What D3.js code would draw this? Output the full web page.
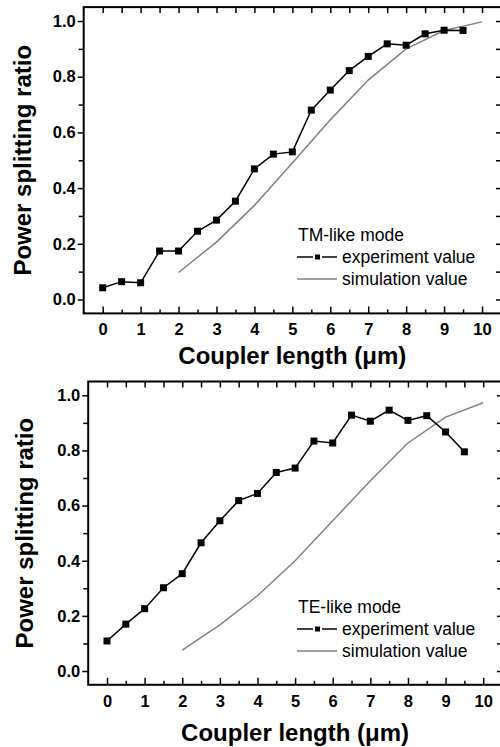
<!DOCTYPE html>
<html>
<head>
<meta charset="utf-8"/>
<script src="https://d3js.org/d3.v7.min.js"></script>
<style>
    body { margin: 0; background: #fff; }
    svg { display: block; }
    text { font-family: Arial, "Liberation Sans", sans-serif; fill: #000; }
    .tick line { stroke: #000; stroke-width: 1.5; }
</style>
</head>
<body>
<svg id="chart" width="500" height="747"></svg>
<script>
    // coupler lengths (um)
    var expLengths = [0, 0.5, 1, 1.5, 2, 2.5, 3, 3.5, 4, 4.5, 5, 5.5, 6, 6.5, 7, 7.5, 8, 8.5, 9, 9.5]
    var simLengths = [2, 3, 4, 5, 6, 7, 8, 9, 10]

    // TM-like mode
    var tmExperiment = [0.042, 0.064, 0.060, 0.174, 0.174, 0.245, 0.285, 0.353, 0.469, 0.522,
        0.530, 0.680, 0.752, 0.822, 0.873, 0.918, 0.913, 0.954, 0.967, 0.966]
    var tmSimulation = [0.097, 0.206, 0.338, 0.490, 0.645, 0.788, 0.900, 0.966, 0.997]

    // TE-like mode
    var teExperiment = [0.109, 0.170, 0.226, 0.302, 0.353, 0.465, 0.545, 0.618, 0.644, 0.720,
        0.736, 0.834, 0.827, 0.928, 0.906, 0.946, 0.909, 0.926, 0.867, 0.795]
    var teSimulation = [0.076, 0.167, 0.273, 0.400, 0.545, 0.690, 0.827, 0.921, 0.973]

    var xTicks = [0, 1, 2, 3, 4, 5, 6, 7, 8, 9, 10]
    var xMinor = [0.5, 1.5, 2.5, 3.5, 4.5, 5.5, 6.5, 7.5, 8.5, 9.5]
    var yTicks = [0, 0.2, 0.4, 0.6, 0.8, 1.0]
    var yMinor = [0.1, 0.3, 0.5, 0.7, 0.9]

    var svg = d3.select("#chart")

    function drawPanel(p) {
        var x = d3.scaleLinear().domain([-0.5, 10.5]).range([p.left, p.right])
        var y = d3.scaleLinear().domain([-0.05, 1.05]).range([p.bottom, p.top])
        var g = svg.append("g")

        // ticks
        g.append("g").attr("transform", "translate(0," + p.bottom + ")")
            .call(d3.axisBottom(x).tickValues(xTicks).tickSize(-7).tickPadding(10).tickFormat(d3.format("d")))
        g.append("g").attr("transform", "translate(0," + p.bottom + ")")
            .call(d3.axisBottom(x).tickValues(xMinor).tickSize(-4).tickFormat(""))
        g.append("g").attr("transform", "translate(0," + p.top + ")")
            .call(d3.axisTop(x).tickValues(xTicks.concat(xMinor)).tickSize(-6).tickFormat(""))
        g.append("g").attr("transform", "translate(" + p.left + ",0)")
            .call(d3.axisLeft(y).tickValues(yTicks).tickSize(6).tickPadding(2).tickFormat(d3.format(".1f")))
        g.append("g").attr("transform", "translate(" + p.left + ",0)")
            .call(d3.axisLeft(y).tickValues(yMinor).tickSize(5).tickFormat(""))
        g.append("g").attr("transform", "translate(" + p.right + ",0)")
            .call(d3.axisRight(y).tickValues(yTicks.concat(yMinor)).tickSize(-5).tickFormat(""))

        g.selectAll(".domain").remove()
        g.selectAll(".tick text")
            .style("font-size", "16.5px").style("font-weight", "bold")
            .style("font-family", "Arial, 'Liberation Sans', sans-serif")

        // frame
        g.append("rect")
            .attr("x", p.left).attr("y", p.top)
            .attr("width", p.right - p.left).attr("height", p.bottom - p.top)
            .attr("fill", "none").attr("stroke", "#000").attr("stroke-width", 2)

        // simulation curve
        var sim = simLengths.map(function (d, i) { return [d, p.sim[i]] })
        g.append("path").datum(sim)
            .attr("fill", "none").attr("stroke", "#808080").attr("stroke-width", 1.5)
            .attr("d", d3.line().x(function (d) { return x(d[0]) }).y(function (d) { return y(d[1]) }))

        // experiment
        var exp = expLengths.map(function (d, i) { return [d, p.exp[i]] })
        g.append("path").datum(exp)
            .attr("fill", "none").attr("stroke", "#000").attr("stroke-width", 1.5)
            .attr("d", d3.line().x(function (d) { return x(d[0]) }).y(function (d) { return y(d[1]) }))
        g.selectAll("rect.pt").data(exp).enter().append("rect")
            .attr("class", "pt")
            .attr("x", function (d) { return x(d[0]) - 3.5 })
            .attr("y", function (d) { return y(d[1]) - 3.5 })
            .attr("width", 7).attr("height", 7)
            .attr("fill", "#000")

        // axis titles
        g.append("text")
            .attr("x", (p.left + p.right) / 2).attr("y", p.xTitleY)
            .attr("text-anchor", "middle")
            .style("font-size", "24px").style("font-weight", "bold")
            .text("Coupler length (\u03bcm)")
        g.append("text")
            .attr("transform", "translate(" + p.yTitleX + "," + (p.top + p.bottom) / 2 + ") rotate(-90)")
            .attr("text-anchor", "middle")
            .style("font-size", "24px").style("font-weight", "bold")
            .text("Power splitting ratio")

        // legend
        var lg = g.append("g").attr("transform", "translate(297," + p.legendY + ")")
        lg.append("text").attr("x", 1).attr("y", 0).style("font-size", "17.5px").text(p.mode)
        lg.append("line").attr("x1", 0).attr("x2", 40).attr("y1", 16).attr("y2", 16)
            .attr("stroke", "#000").attr("stroke-width", 1.5)
        lg.append("rect").attr("x", 17).attr("y", 12.5).attr("width", 7).attr("height", 7)
            .attr("fill", "#000").attr("stroke", "#fff").attr("stroke-width", 2)
        lg.append("text").attr("x", 45).attr("y", 22).style("font-size", "17.5px").text("experiment value")
        lg.append("line").attr("x1", 0).attr("x2", 40).attr("y1", 38).attr("y2", 38)
            .attr("stroke", "#808080").attr("stroke-width", 1.5)
        lg.append("text").attr("x", 45).attr("y", 44).style("font-size", "17.5px").text("simulation value")
    }

    drawPanel({
        left: 83.7, right: 501, top: 7.1, bottom: 313.4,
        exp: tmExperiment, sim: tmSimulation,
        xTitleY: 364, yTitleX: 31, legendY: 241, mode: "TM-like mode"
    })
    drawPanel({
        left: 88.2, right: 502, top: 381.5, bottom: 684.8,
        exp: teExperiment, sim: teSimulation,
        xTitleY: 741, yTitleX: 33, legendY: 613, mode: "TE-like mode"
    })
</script>
</body>
</html>
